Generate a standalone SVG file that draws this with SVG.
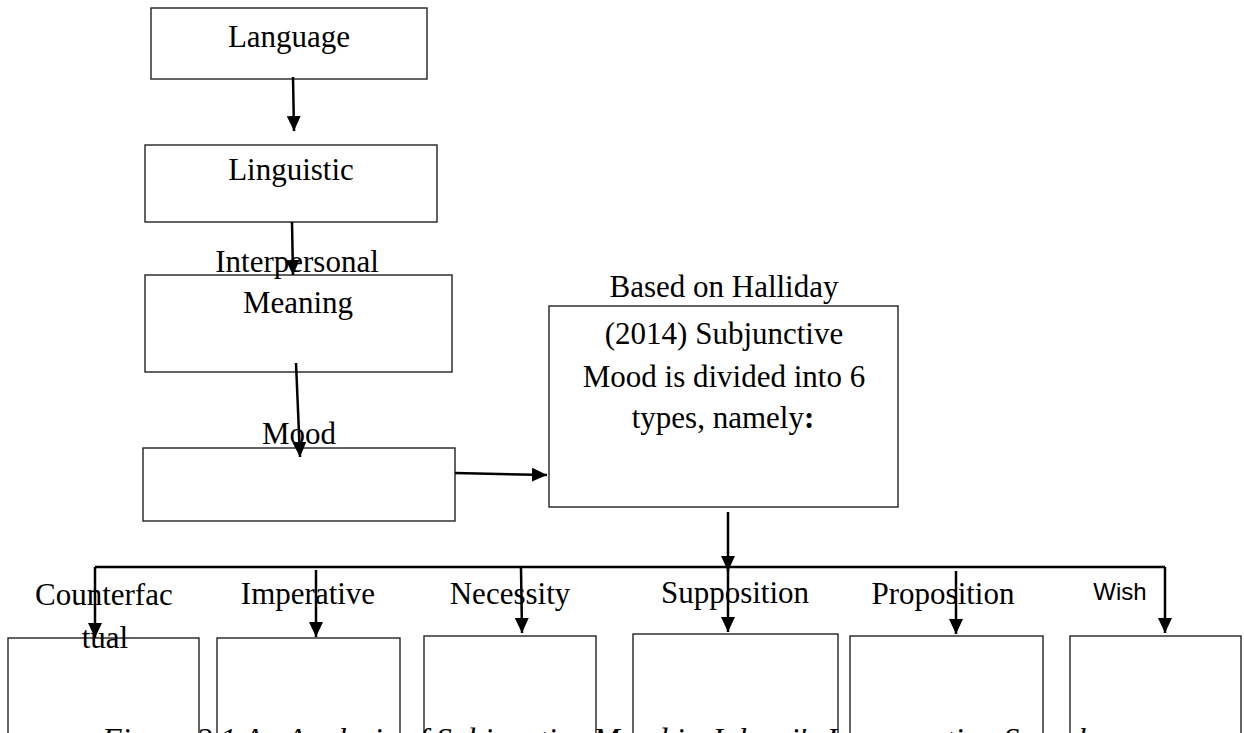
<svg xmlns="http://www.w3.org/2000/svg" width="1244" height="733" viewBox="0 0 1244 733">
<defs>
<marker id="ah" markerUnits="userSpaceOnUse" markerWidth="16" markerHeight="14" refX="15" refY="7" orient="auto">
<path d="M0,0 L15,7 L0,14 z" fill="#000"/>
</marker>
<style>
.box{fill:#fff;stroke:#222;stroke-width:1.4}
.t{font-family:"Liberation Serif","Times New Roman",serif;font-size:31px;fill:#000;text-anchor:middle}
.w{font-family:"Liberation Sans",Arial,sans-serif;font-size:24px;fill:#000;text-anchor:middle}
.c{stroke:#000;stroke-width:2.5;fill:none}
.a{stroke:#000;stroke-width:2.5;fill:none;marker-end:url(#ah)}
.cap{font-family:"Liberation Serif","Times New Roman",serif;font-size:32px;font-style:italic;fill:#000}
</style>
</defs>
<rect width="1244" height="733" fill="#fff"/>

<g id="language"><rect class="box" x="151" y="8" width="276" height="71"/><text class="t" x="289" y="47">Language</text></g>
<g id="linguistic"><rect class="box" x="145" y="145" width="292" height="77"/><text class="t" x="291" y="180">Linguistic</text></g>
<g id="meaning"><rect class="box" x="145" y="275" width="307" height="97"/><text class="t" x="298" y="313">Meaning</text></g>
<g id="mood"><rect class="box" x="143" y="448" width="312" height="73"/></g>
<g id="halliday"><rect class="box" x="549" y="306" width="349" height="201"/>
<text class="t" x="724" y="344">(2014) Subjunctive</text>
<text class="t" x="724" y="387">Mood is divided into 6</text>
<text class="t" x="723" y="428">types, namely<tspan font-weight="bold">:</tspan></text></g>

<g id="counterfactual"><rect class="box" x="8" y="638" width="191" height="110"/></g>
<g id="imperative"><rect class="box" x="217" y="638" width="183" height="110"/></g>
<g id="necessity"><rect class="box" x="424" y="636" width="172" height="110"/></g>
<g id="supposition"><rect class="box" x="633" y="634" width="205" height="110"/></g>
<g id="proposition"><rect class="box" x="850" y="636" width="193" height="110"/></g>
<g id="wish"><rect class="box" x="1070" y="636" width="171" height="110"/></g>

<g id="labels">
<text class="t" x="297" y="272">Interpersonal</text>
<text class="t" x="299" y="444">Mood</text>
<text class="t" x="724" y="297">Based on Halliday</text>
<text class="t" x="35" y="605" style="text-anchor:start">Counterfac</text>
<text class="t" x="105" y="648">tual</text>
<text class="t" x="308" y="604">Imperative</text>
<text class="t" x="510" y="604">Necessity</text>
<text class="t" x="735" y="603">Supposition</text>
<text class="t" x="943" y="604">Proposition</text>
<text class="w" x="1120" y="600">Wish</text>
</g>

<g id="connectors">
<line class="a" x1="293" y1="77" x2="294" y2="131"/>
<line class="a" x1="292" y1="222" x2="293" y2="275"/>
<line class="a" x1="296" y1="363" x2="300" y2="457"/>
<line class="a" x1="455" y1="473" x2="547" y2="475"/>
<line class="a" x1="728" y1="512" x2="728" y2="571"/>
<path class="c" d="M95,567 H1165"/>
<line class="a" x1="95" y1="567" x2="95" y2="638"/>
<line class="a" x1="316" y1="570" x2="316" y2="637"/>
<line class="a" x1="521" y1="568" x2="522" y2="633"/>
<line class="a" x1="728" y1="567" x2="728" y2="632"/>
<line class="a" x1="956" y1="571" x2="956" y2="634"/>
<line class="a" x1="1165" y1="567" x2="1165" y2="633"/>
</g>

<text class="cap" x="102" y="750">Figure 2.1 An Analysis of Subjunctive Mood in Jokowi's Inauguration Speech</text>
</svg>
